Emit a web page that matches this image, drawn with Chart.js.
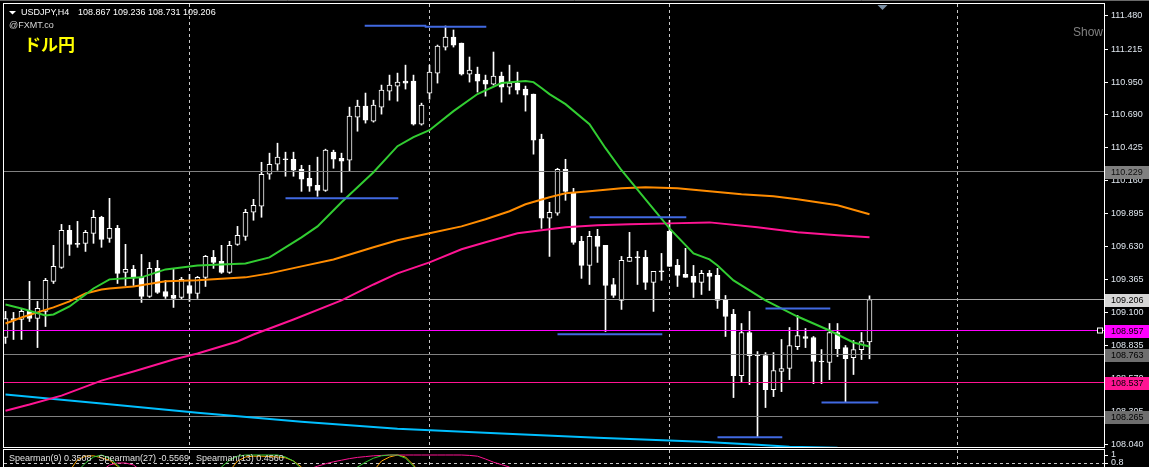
<!DOCTYPE html>
<html>
<head>
<meta charset="utf-8">
<script src="https://cdn.jsdelivr.net/npm/chart.js@4.4.1/dist/chart.umd.min.js"></script>
<style>
  html, body { margin: 0; padding: 0; background: #000; overflow: hidden; width: 1149px; height: 467px; }
  #wrap { position: relative; width: 1149px; height: 467px; }
  #main { position: absolute; left: 0; top: 0; }
  #sub { position: absolute; left: 0; top: 449px; }
</style>
</head>
<body>
<div id="wrap">
  <canvas id="main" width="1149" height="449"></canvas>
  <canvas id="sub" width="1149" height="60"></canvas>
</div>
<script>
// ---- USDJPY H4 bars ----
const symbol = 'USDJPY,H4';
const opens = [
  108.902,109.054,109.046,109.111,109.054,109.111,109.352,109.464,109.761,109.657,
  109.657,109.737,109.866,109.697,109.777,109.424,109.448,109.384,109.231,109.456,
  109.271,109.239,109.223,109.319,109.255,109.384,109.544,109.512,109.424,109.649,
  109.713,109.906,109.954,110.211,110.291,110.331,110.331,110.251,110.179,110.123,
  110.082,110.388,110.339,110.323,110.669,110.757,110.637,110.749,110.878,110.918,
  110.958,110.958,110.613,110.862,111.022,111.231,111.311,111.263,111.014,111.014,
  110.966,110.934,110.998,110.910,110.942,110.894,110.854,110.492,109.858,109.898,
  110.251,110.066,109.673,109.480,109.713,109.641,109.327,109.199,109.512,109.544,
  109.544,109.344,109.432,109.753,109.480,109.408,109.392,109.344,109.416,109.400,
  109.207,109.087,108.596,108.942,108.765,108.757,108.484,108.629,108.653,108.829,
  108.910,108.902,108.709,108.701,108.942,108.821,108.741,108.805,108.867
];
const highs = [
  109.111,109.103,109.127,109.352,109.191,109.376,109.641,109.809,109.801,109.833,
  109.761,109.922,109.874,110.018,109.801,109.649,109.480,109.568,109.504,109.520,
  109.360,109.448,109.384,109.408,109.392,109.560,109.600,109.641,109.673,109.793,
  109.930,110.010,110.307,110.380,110.460,110.388,110.388,110.283,110.283,110.348,
  110.412,110.404,110.380,110.749,110.805,110.862,110.805,110.926,111.006,111.022,
  111.086,111.006,110.781,111.086,111.247,111.400,111.368,111.263,111.151,111.070,
  111.006,111.191,111.030,111.086,111.030,110.918,110.854,110.532,109.986,110.259,
  110.331,110.098,109.713,109.753,109.769,109.641,109.376,109.552,109.745,109.592,
  109.600,109.432,109.576,109.842,109.528,109.617,109.480,109.440,109.440,109.456,
  109.239,109.127,109.014,109.111,108.789,108.781,108.781,108.886,108.982,109.079,
  108.974,108.910,108.805,109.014,109.014,108.838,108.878,108.942,109.236
];
const lows = [
  108.854,108.886,108.886,109.030,108.821,108.990,109.335,109.456,109.560,109.625,
  109.592,109.657,109.625,109.665,109.335,109.319,109.319,109.183,109.223,109.255,
  109.215,109.143,109.207,109.191,109.215,109.311,109.456,109.416,109.416,109.641,
  109.681,109.842,109.866,110.171,110.243,110.195,110.195,110.074,110.074,110.034,
  110.074,110.259,110.066,110.235,110.556,110.621,110.629,110.693,110.805,110.797,
  110.894,110.605,110.605,110.813,110.942,111.207,111.231,111.006,110.950,110.870,
  110.837,110.926,110.789,110.854,110.854,110.717,110.372,109.777,109.552,109.882,
  110.002,109.649,109.376,109.327,109.504,108.950,109.223,109.127,109.512,109.327,
  109.287,109.111,109.360,109.472,109.311,109.384,109.223,109.247,109.279,109.135,
  108.910,108.420,108.540,108.524,108.107,108.340,108.428,108.468,108.564,108.805,
  108.821,108.532,108.532,108.564,108.749,108.380,108.605,108.725,108.731
];
const closes = [
  109.054,109.038,109.111,109.054,109.135,109.360,109.472,109.761,109.649,109.649,
  109.745,109.866,109.689,109.777,109.416,109.448,109.384,109.231,109.456,109.263,
  109.231,109.215,109.368,109.255,109.384,109.552,109.504,109.424,109.641,109.721,
  109.906,109.962,110.211,110.291,110.348,110.327,110.243,110.171,110.115,110.082,
  110.404,110.331,110.315,110.677,110.757,110.645,110.765,110.886,110.926,110.950,
  110.942,110.613,110.765,111.030,111.239,111.311,111.247,111.014,111.046,110.958,
  110.934,110.998,110.910,110.942,110.886,110.846,110.484,109.858,109.906,110.251,
  110.074,109.665,109.480,109.713,109.633,109.319,109.239,109.520,109.544,109.540,
  109.344,109.432,109.428,109.472,109.400,109.384,109.344,109.416,109.392,109.199,
  109.070,108.596,108.942,108.757,108.757,108.484,108.637,108.653,108.838,108.918,
  108.894,108.709,108.705,108.942,108.813,108.733,108.805,108.870,109.206
];

// Price axis ticks and horizontal levels
const priceTicks = [111.480,111.215,110.950,110.690,110.425,110.160,109.895,109.630,109.365,109.100,108.835,108.570,108.305,108.040];
const levelPrices = [110.229, 109.206, 108.957, 108.763, 108.537, 108.265];
// Bars where the dashed period separators fall
const gridBars = [23, 53, 83, 119];

// Moving averages (bar index, price)
const greenIdx = [0,2,5,6,8,9,11,13,17,20,24,30,33,37,39,42,46,49,51,53,56,59,62,65,66,67,68,70,73,75,77,80,83,86,88,89,91,95,99,103,106,108];
const greenVal = [109.167,109.135,109.079,109.087,109.151,109.199,109.295,109.368,109.384,109.448,109.480,109.496,109.544,109.705,109.793,109.986,110.227,110.436,110.508,110.564,110.717,110.854,110.942,110.958,110.950,110.902,110.854,110.773,110.613,110.420,110.243,110.010,109.777,109.576,109.528,109.480,109.360,109.199,109.070,108.958,108.862,108.829];
const orangeIdx = [0,2,4,6,8,10,12,13,16,20,24,30,33,37,41,46,49,53,57,60,63,65,68,70,73,77,80,84,88,92,96,99,104,108];
const orangeVal = [109.014,109.062,109.103,109.143,109.191,109.255,109.287,109.295,109.311,109.352,109.360,109.384,109.416,109.472,109.528,109.625,109.681,109.737,109.793,109.850,109.914,109.970,110.026,110.058,110.074,110.098,110.106,110.098,110.074,110.050,110.034,110.010,109.962,109.890];
const pinkIdx = [0,3,7,12,16,21,24,29,31,36,42,46,49,53,57,60,64,67,70,74,78,83,88,94,99,104,108];
const pinkVal = [108.315,108.364,108.436,108.556,108.629,108.725,108.773,108.870,108.926,109.046,109.199,109.327,109.416,109.504,109.609,109.665,109.737,109.761,109.785,109.801,109.809,109.817,109.825,109.785,109.745,109.721,109.705];
const skyIdx = [0,12,24,37,49,62,74,87,94,98,104];
const skyVal = [108.444,108.372,108.299,108.227,108.171,108.131,108.098,108.066,108.042,108.026,108.018];

// High / low marker segments (from bar, to bar, price)
const segStart = [44.9, 52.4, 35, 73, 69, 95, 102, 89];
const segEnd = [52.6, 60.1, 49.1, 85.1, 82.1, 103.1, 109.1, 97.1];
const segPrice = [111.402, 111.394, 110.018, 109.866, 108.928, 109.135, 108.380, 108.101];

// Spearman sub-window: visible arcs (first bar of each arc, values)
const sp9Start = [9, 26, 43];
const sp9Arcs = [[0.6,0.8,0.95,1.0,0.92,0.75,0.55],
                 [0.6,0.7,0.87,0.97,1.0,1.0,1.0,1.0,1.0,0.95,0.85,0.65],
                 [0.55,0.7,0.82,0.92,0.98,1.0,1.0,0.92,0.72,0.5]];
const sp27Start = [12, 38];
const sp27Arcs = [[0.6,0.75,0.8,0.8,0.75,0.6],
                  [0.65,0.72,0.78,0.83,0.87,0.91,0.94,0.96,0.98,0.99,1.0,1.0,1.0,1.0,1.0,1.0,1.0,1.0,1.0,1.0,0.99,0.97,0.9,0.82,0.76,0.7]];
const sp13Start = [8, 28, 46];
const sp13Arcs = [[0.6,0.88,0.97,0.98,0.93,0.87,0.72,0.55],
                  [0.6,0.85,0.95,0.97,0.97,0.96,0.95,0.93,0.85,0.7,0.5],
                  [0.6,0.85,0.95,1.0,0.95,0.75,0.5]];
const spLabels = ['Spearman(9) 0.3508', 'Spearman(27) -0.5569', 'Spearman(13) 0.4560'];
const spTicks = [1, 0.8];

// ---- layout constants ----
const X_MIN = -0.1875, X_MAX = X_MIN + 137.5;   // 8 px per bar over a 1100 px plot
const Y_MAX = 111.5762, Y_MIN = 108.0157;
const AXIS_FONT = '"Liberation Sans", Arial, sans-serif';

const levelStyle = [
  { line: '#808080', box: '#808080', text: '#101010' },
  { line: '#a8a8a8', box: '#d6d6d6', text: '#000000' },
  { line: '#ff00ff', box: '#ff00ff', text: '#000000' },
  { line: '#808080', box: '#6e6e6e', text: '#000000' },
  { line: '#ff1493', box: '#ff1493', text: '#000000' },
  { line: '#808080', box: '#6e6e6e', text: '#000000' }
];

const barIdx = opens.map((_, i) => i);
const pts = (xs, ys) => xs.map((x, j) => ({ x, y: ys[j] }));
const arcs = (starts, vals) => {
  const out = [];
  starts.forEach((s, a) => {
    vals[a].forEach((v, j) => out.push({ x: s + j, y: v }));
    out.push({ x: s + vals[a].length - 0.5, y: null });
  });
  return out;
};
const lineDs = (data, color, order) => ({
  type: 'line', data, borderColor: color, borderWidth: 2, pointRadius: 0,
  tension: 0, fill: false, order, spanGaps: false
});

const datasets = [
  { // wicks
    type: 'bar', data: barIdx.map(i => ({ x: i, y: [lows[i], highs[i]] })),
    barThickness: 1, backgroundColor: '#ffffff', borderWidth: 0, grouped: false, order: 10
  },
  { // bodies: hollow = rising bar, filled = falling bar
    type: 'bar', data: barIdx.map(i => ({ x: i, y: [opens[i], closes[i]] })),
    barThickness: 5, minBarLength: 1, grouped: false, order: 9,
    backgroundColor: c => closes[c.dataIndex] > opens[c.dataIndex] ? '#000000' : '#ffffff',
    borderColor: '#ffffff', borderWidth: 1, borderSkipped: false
  },
  lineDs(pts(skyIdx, skyVal), '#00bfff', 6),
  lineDs(pts(pinkIdx, pinkVal), '#ff1493', 5),
  lineDs(pts(orangeIdx, orangeVal), '#ff8c00', 4),
  lineDs(pts(greenIdx, greenVal), '#32cd32', 3)
];
segStart.forEach((s, k) => {
  datasets.push(lineDs([{ x: s, y: segPrice[k] }, { x: segEnd[k], y: segPrice[k] }], '#4169e1', 2));
});

const crisp = v => Math.round(v - 0.5) + 0.5;

const pricePanel = {
  id: 'pricePanel',
  beforeDatasetsDraw(chart) {
    const { ctx, chartArea: a, scales: { x } } = chart;
    ctx.save();
    ctx.strokeStyle = '#c8c8c8';
    ctx.lineWidth = 1;
    ctx.setLineDash([3, 3]);
    gridBars.forEach(b => {
      const px = Math.floor(x.getPixelForValue(b)) + 0.5;
      ctx.beginPath(); ctx.moveTo(px, a.top); ctx.lineTo(px, a.bottom); ctx.stroke();
    });
    ctx.restore();
  },
  afterDatasetDraw(chart, args) {
    if (args.index !== 1) return;
    const { ctx, chartArea: a, scales: { y } } = chart;
    ctx.save();
    ctx.lineWidth = 1;
    levelPrices.forEach((p, k) => {
      const py = crisp(y.getPixelForValue(p));
      ctx.strokeStyle = levelStyle[k].line;
      ctx.beginPath(); ctx.moveTo(a.left, py); ctx.lineTo(a.right, py); ctx.stroke();
    });
    // handle of the selected level
    const hy = crisp(y.getPixelForValue(levelPrices[2]));
    ctx.fillStyle = '#000'; ctx.strokeStyle = '#ffffff';
    ctx.fillRect(a.right - 6, hy - 2, 4, 4);
    ctx.strokeRect(a.right - 6.5, hy - 2.5, 5, 5);
    ctx.restore();
  },
  afterDraw(chart) {
    const { ctx, chartArea: a, scales: { y } } = chart;
    ctx.save();
    // window frame
    ctx.strokeStyle = '#6a6a6a'; ctx.lineWidth = 1;
    ctx.beginPath(); ctx.moveTo(0, 0.5); ctx.lineTo(1149, 0.5); ctx.stroke();
    ctx.strokeStyle = '#ffffff';
    ctx.strokeRect(a.left - 0.5, a.top - 0.5, a.right - a.left + 1, a.bottom - a.top);
    // price boxes on the axis
    ctx.font = '9px ' + AXIS_FONT;
    ctx.textBaseline = 'middle';
    ctx.textAlign = 'left';
    levelPrices.forEach((p, k) => {
      const py = Math.round(y.getPixelForValue(p));
      ctx.fillStyle = levelStyle[k].box;
      ctx.fillRect(a.right + 1, py - 6, 44, 13);
      ctx.fillStyle = levelStyle[k].text;
      ctx.fillText(p.toFixed(3), a.right + 7, py + 0.5);
    });
    // header
    ctx.fillStyle = '#ffffff';
    ctx.beginPath(); ctx.moveTo(9, 11); ctx.lineTo(16, 11); ctx.lineTo(12.5, 14.5); ctx.closePath(); ctx.fill();
    const last = opens.length - 1;
    ctx.fillText(symbol, 21, 13);
    ctx.fillText([opens[last], highs[last], lows[last], closes[last]].map(v => v.toFixed(3)).join(' '), 78, 13);
    ctx.fillStyle = '#d8d8d8';
    ctx.fillText('@FXMT.co', 9, 26);
    ctx.fillStyle = '#ffff00';
    ctx.font = 'bold 17px "Noto Sans CJK JP", sans-serif';
    ctx.fillText('ドル円', 24, 45);
    ctx.fillStyle = '#808080';
    ctx.font = '12px ' + AXIS_FONT;
    ctx.textAlign = 'right';
    ctx.fillText('Show', a.right - 1, 33);
    // chart shift marker
    ctx.fillStyle = '#7a8ea3';
    ctx.beginPath(); ctx.moveTo(877.5, 5); ctx.lineTo(887.5, 5); ctx.lineTo(882.5, 10); ctx.closePath(); ctx.fill();
    ctx.restore();
  }
};

const axisY = (min, max, ticks, fmt) => ({
  position: 'right', min, max,
  afterFit(s) { s.width = 45; s.paddingTop = 0; s.paddingBottom = 0; },
  afterBuildTicks(s) { s.ticks = ticks.map(v => ({ value: v })); },
  ticks: { callback: fmt, color: '#dfe6ee', font: { family: AXIS_FONT, size: 9 }, padding: 3, autoSkip: false, maxRotation: 0 },
  grid: { drawOnChartArea: false, color: '#ffffff', tickLength: 4 },
  border: { display: false }
});

new Chart(document.getElementById('main'), {
  type: 'bar',
  data: { datasets },
  options: {
    responsive: false, animation: false, devicePixelRatio: 1,
    layout: { padding: { top: 4, left: 4, bottom: 1, right: 0 } },
    plugins: { legend: { display: false }, tooltip: { enabled: false } },
    scales: {
      x: { type: 'linear', display: false, min: X_MIN, max: X_MAX, offset: false },
      y: axisY(Y_MIN, Y_MAX, priceTicks, v => v.toFixed(3))
    }
  },
  plugins: [pricePanel]
});

// ---- Spearman sub-window ----
const subPanel = {
  id: 'subPanel',
  beforeDatasetsDraw(chart) {
    const { ctx, chartArea: a, scales: { x, y } } = chart;
    ctx.save();
    ctx.strokeStyle = '#c8c8c8'; ctx.lineWidth = 1; ctx.setLineDash([3, 3]);
    gridBars.forEach(b => {
      const px = Math.floor(x.getPixelForValue(b)) + 0.5;
      ctx.beginPath(); ctx.moveTo(px, a.top); ctx.lineTo(px, a.bottom); ctx.stroke();
    });
    const py = crisp(y.getPixelForValue(spTicks[1]));
    ctx.beginPath(); ctx.moveTo(a.left, py); ctx.lineTo(a.right, py); ctx.stroke();
    ctx.restore();
  },
  afterDraw(chart) {
    const { ctx, chartArea: a } = chart;
    ctx.save();
    ctx.strokeStyle = '#ffffff'; ctx.lineWidth = 1;
    ctx.strokeRect(a.left - 0.5, a.top - 0.5, a.right - a.left + 1, a.bottom - a.top + 5);
    ctx.font = '9px ' + AXIS_FONT;
    ctx.textBaseline = 'middle';
    ctx.fillStyle = '#e0e0e0';
    let tx = 9;
    spLabels.forEach(t => { ctx.fillText(t, tx, 9.5); tx += ctx.measureText(t).width + 7; });
    ctx.restore();
  }
};

const subLine = (data, color) => ({
  type: 'line', data, borderColor: color, borderWidth: 1, pointRadius: 0, tension: 0, fill: false, spanGaps: false
});

new Chart(document.getElementById('sub'), {
  type: 'line',
  data: {
    datasets: [
      subLine(arcs(sp9Start, sp9Arcs), '#32cd32'),
      subLine(arcs(sp27Start, sp27Arcs), '#ff1493'),
      subLine(arcs(sp13Start, sp13Arcs), '#ffa500')
    ]
  },
  options: {
    responsive: false, animation: false, devicePixelRatio: 1,
    layout: { padding: { top: 1, left: 4, bottom: 0, right: 0 } },
    plugins: { legend: { display: false }, tooltip: { enabled: false } },
    scales: {
      x: { type: 'linear', display: false, min: X_MIN, max: X_MAX, offset: false },
      y: axisY(-0.35, 1.125, spTicks, v => (v === 1 ? '1' : v.toFixed(1)))
    }
  },
  plugins: [subPanel]
});
</script>
</body>
</html>
